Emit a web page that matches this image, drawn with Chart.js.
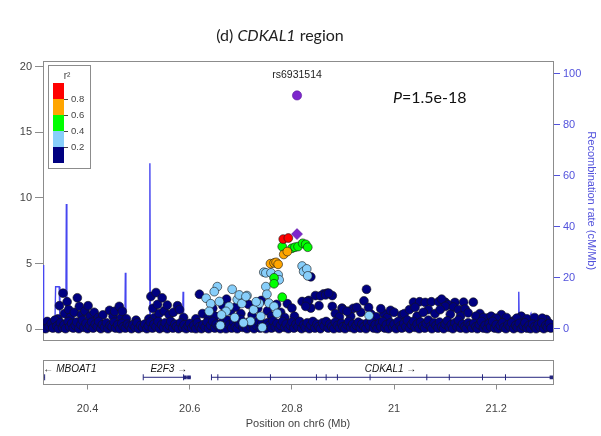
<!DOCTYPE html>
<html lang="en">
<head>
<meta charset="UTF-8">
<title>CDKAL1 region</title>
<script src="https://cdn.jsdelivr.net/npm/chart.js@4.4.0/dist/chart.umd.min.js"></script>
<style>
    body {
        margin: 0;
        background: #fff;
        width: 601px;
        height: 436px;
        position: relative;
        overflow: hidden;
        font-family: Lato, 'Liberation Sans', sans-serif;
    }
    canvas { position: absolute; left: 0; }
    #mainCanvas { top: 0; }
    #geneCanvas { top: 350px; }
    #title {
        position: absolute; left: 0; width: 560px; top: 25px;
        text-align: center; font-size: 16px; line-height: 20px; color: #222; z-index: 2;
    }
    #pval {
        position: absolute; left: 393px; top: 87px;
        font-size: 16px; line-height: 20px; color: #111; z-index: 2;
    }
</style>
</head>
<body>
<div id="title">(d) <i>CDKAL1</i> region</div>
<div id="pval"><i>P</i>=1.5e-18</div>
<canvas id="mainCanvas" width="601" height="350"></canvas>
<canvas id="geneCanvas" width="601" height="86"></canvas>
<script>
// ---- data ----
const xMin = 20.3128, xMax = 21.311;
const xTicks = [20.4, 20.6, 20.8, 21.0, 21.2];
const xTickLabels = ['20.4', '20.6', '20.8', '21', '21.2'];
const yTicks = [0, 5, 10, 15, 20];
const recombTicks = [0, 20, 40, 60, 80, 100];

// r^2 bins, lowest first
const ldBreaks = ['0.2', '0.4', '0.6', '0.8'];
const ldColors = ['#000080', '#87cefa', '#00ff00', '#ffa500', '#ff0000'];

const leadSnp = 'rs6931514';
const leadPos = 20.810;
const leadLogP = 17.8;
const leadDiscoveryLogP = 7.25;

const redSnps = [[20.783, 6.87], [20.793, 6.95]];
const orangeSnps = [[20.784, 5.7], [20.791, 5.92], [20.758, 5.0], [20.765, 5.05], [20.769, 5.1], [20.773, 4.95]];
const greenSnps = [[20.781, 6.3], [20.800, 6.17], [20.806, 6.25], [20.812, 6.3], [20.821, 6.55], [20.827, 6.47],
    [20.831, 6.25], [20.765, 3.92], [20.765, 3.47], [20.781, 2.45]];
const lightBlueSnps = [[20.745, 4.35], [20.749, 4.3], [20.759, 4.3], [20.773, 4.15], [20.775, 3.77], [20.820, 4.82],
    [20.823, 4.4], [20.829, 4.6], [20.831, 4.07], [20.749, 3.25], [20.654, 3.25], [20.648, 2.87], [20.632, 2.37],
    [20.641, 1.95], [20.683, 3.05], [20.693, 2.27], [20.712, 2.57], [20.702, 1.97], [20.677, 1.75], [20.671, 1.37],
    [20.751, 2.67], [20.736, 1.97], [20.755, 2.0], [20.765, 1.75], [20.739, 1.0], [20.771, 1.22], [20.697, 2.62],
    [20.710, 2.5], [20.719, 0.62], [20.638, 1.37], [20.658, 2.12], [20.662, 1.1], [20.688, 0.9], [20.725, 1.5],
    [20.730, 2.1], [20.660, 0.3], [20.705, 0.5], [20.742, 0.15], [20.951, 1.05]];
const navySnps = [
    // left cluster
    [20.342, 0.8], [20.345, 1.8], [20.352, 2.75], [20.355, 1.2], [20.360, 2.1], [20.363, 1.5], [20.366, 0.9],
    [20.374, 1.3], [20.380, 2.4], [20.384, 1.75], [20.388, 1.1], [20.395, 1.4], [20.401, 1.8], [20.405, 1.0],
    [20.413, 1.3], [20.421, 0.9], [20.430, 1.1], [20.443, 1.45], [20.450, 1.0], [20.453, 1.37], [20.462, 1.75],
    [20.466, 0.9], [20.468, 1.37], [20.476, 0.8], [20.495, 0.7], [20.520, 0.8], [20.524, 2.5], [20.528, 1.6],
    [20.531, 0.9], [20.534, 2.8], [20.537, 1.9], [20.540, 1.2], [20.546, 2.4], [20.550, 1.4], [20.556, 1.85],
    [20.560, 1.1], [20.568, 1.3], [20.576, 1.8], [20.580, 1.5], [20.588, 0.9], [20.612, 0.8], [20.619, 2.67],
    // middle
    [20.625, 1.2], [20.636, 0.9], [20.645, 1.6], [20.650, 1.0], [20.665, 1.8], [20.672, 2.3], [20.680, 1.4],
    [20.690, 1.7], [20.700, 1.2], [20.715, 1.9], [20.722, 1.1], [20.733, 1.6], [20.740, 2.2], [20.752, 1.4],
    [20.760, 1.0], [20.770, 1.9], [20.778, 1.3], [20.786, 0.9], [20.791, 1.95], [20.800, 1.62], [20.805, 1.0],
    [20.833, 2.2], [20.837, 4.0], [20.862, 2.7], [20.869, 2.75], [20.879, 2.57], [20.846, 2.57], [20.856, 2.55],
    [20.866, 2.62], [20.837, 1.62], [20.853, 1.8], [20.879, 1.75], [20.820, 2.12], [20.830, 2.12], [20.911, 1.37],
    [20.898, 1.62], [20.827, 1.75], [20.872, 2.75], [20.885, 1.2], [20.893, 0.95], [20.900, 1.5], [20.915, 1.0],
    [20.920, 1.6], [20.935, 1.3], [20.955, 1.15], [20.965, 0.95], [20.980, 1.2], [20.987, 0.9],
    [20.946, 3.05], [20.941, 2.17], [20.950, 1.67], [20.927, 1.67], [20.974, 1.57], [20.993, 1.45], [20.908, 1.37],
    // right block
    [21.000, 1.3], [21.015, 1.1], [21.020, 1.2], [21.030, 1.5], [21.038, 2.07], [21.050, 2.1], [21.061, 2.05],
    [21.073, 2.1], [21.087, 2.1], [21.100, 2.07], [21.093, 2.3], [21.136, 2.07], [21.155, 2.07], [21.119, 2.05],
    [21.106, 1.87], [21.041, 1.67], [21.067, 1.5], [21.100, 1.75], [21.116, 1.7], [21.126, 1.5], [21.139, 1.55],
    [21.168, 1.2], [21.184, 0.87], [21.210, 1.12], [21.249, 1.0], [21.233, 0.62], [21.298, 0.75], [21.045, 1.0],
    [21.057, 1.3], [21.080, 1.2], [21.090, 1.5], [21.110, 1.15], [21.130, 1.0], [21.145, 1.25], [21.160, 1.0],
    [21.175, 0.9], [21.190, 1.0], [21.200, 0.85], [21.220, 0.9], [21.240, 0.85], [21.260, 0.8], [21.275, 0.9],
    [21.290, 0.85],
    // low band
    [20.314, 0.3], [20.318, 0.05], [20.321, 0.6], [20.325, 0.2], [20.329, 0.45], [20.332, 0.1], [20.336, 0.7],
    [20.340, 0.25], [20.343, 0.05], [20.347, 0.5], [20.351, 0.15], [20.354, 0.35], [20.357, 0.05], [20.362, 0.6],
    [20.365, 0.2], [20.369, 0.45], [20.372, 0.1], [20.376, 0.3], [20.379, 0.55], [20.383, 0.05], [20.387, 0.35],
    [20.390, 0.7], [20.393, 0.15], [20.397, 0.45], [20.400, 0.05], [20.404, 0.3], [20.408, 0.55], [20.411, 0.1],
    [20.415, 0.4], [20.419, 0.2], [20.422, 0.6], [20.426, 0.05], [20.429, 0.35], [20.433, 0.15], [20.437, 0.5],
    [20.440, 0.05], [20.444, 0.3], [20.448, 0.2], [20.452, 0.55], [20.455, 0.1], [20.459, 0.35], [20.463, 0.05],
    [20.467, 0.45], [20.470, 0.2], [20.474, 0.1], [20.478, 0.4], [20.482, 0.25], [20.486, 0.05], [20.489, 0.35],
    [20.493, 0.15], [20.497, 0.5], [20.500, 0.05], [20.504, 0.3], [20.508, 0.15], [20.512, 0.4], [20.516, 0.05],
    [20.519, 0.25], [20.523, 0.55], [20.527, 0.1], [20.530, 0.4], [20.534, 0.2], [20.538, 0.6], [20.541, 0.05],
    [20.545, 0.35], [20.549, 0.15], [20.552, 0.5], [20.556, 0.05], [20.560, 0.3], [20.563, 0.6], [20.567, 0.1],
    [20.571, 0.4], [20.574, 0.2], [20.578, 0.05], [20.582, 0.5], [20.586, 0.15], [20.589, 0.35], [20.593, 0.05],
    [20.597, 0.25], [20.600, 0.45], [20.604, 0.1], [20.608, 0.3], [20.612, 0.05], [20.615, 0.5], [20.619, 0.2],
    [20.623, 0.05], [20.626, 0.35], [20.630, 0.15], [20.634, 0.55], [20.637, 0.05], [20.641, 0.3], [20.645, 0.6],
    [20.649, 0.1], [20.652, 0.4], [20.656, 0.2], [20.660, 0.05], [20.663, 0.5], [20.667, 0.25], [20.671, 0.05],
    [20.674, 0.7], [20.678, 0.35], [20.682, 0.1], [20.686, 0.55], [20.689, 0.2], [20.693, 0.05], [20.697, 0.4],
    [20.700, 0.75], [20.704, 0.15], [20.708, 0.3], [20.712, 0.05], [20.715, 0.55], [20.719, 0.2], [20.723, 0.4],
    [20.726, 0.05], [20.730, 0.3], [20.734, 0.6], [20.738, 0.1], [20.741, 0.45], [20.745, 0.2], [20.749, 0.05],
    [20.752, 0.5], [20.756, 0.3], [20.760, 0.1], [20.763, 0.65], [20.767, 0.2], [20.771, 0.45], [20.775, 0.05],
    [20.778, 0.3], [20.782, 0.6], [20.786, 0.15], [20.789, 0.4], [20.793, 0.05], [20.797, 0.3], [20.800, 0.55],
    [20.804, 0.1], [20.808, 0.4], [20.812, 0.2], [20.815, 0.6], [20.819, 0.05], [20.823, 0.35], [20.826, 0.15],
    [20.830, 0.5], [20.834, 0.05], [20.837, 0.3], [20.841, 0.6], [20.845, 0.1], [20.849, 0.4], [20.852, 0.2],
    [20.856, 0.05], [20.860, 0.5], [20.863, 0.25], [20.867, 0.6], [20.871, 0.1], [20.874, 0.4], [20.878, 0.2],
    [20.882, 0.05], [20.885, 0.55], [20.889, 0.3], [20.893, 0.1], [20.897, 0.45], [20.900, 0.2], [20.904, 0.05],
    [20.908, 0.35], [20.911, 0.6], [20.915, 0.15], [20.919, 0.4], [20.922, 0.05], [20.926, 0.3], [20.930, 0.55],
    [20.934, 0.1], [20.937, 0.4], [20.941, 0.2], [20.945, 0.05], [20.948, 0.5], [20.952, 0.25], [20.956, 0.6],
    [20.960, 0.1], [20.963, 0.35], [20.967, 0.05], [20.971, 0.45], [20.974, 0.2], [20.978, 0.6], [20.982, 0.1],
    [20.985, 0.35], [20.989, 0.05], [20.993, 0.5], [20.997, 0.2], [21.000, 0.4], [21.004, 0.05], [21.008, 0.6],
    [21.012, 0.25], [21.015, 0.1], [21.019, 0.45], [21.023, 0.2], [21.026, 0.7], [21.030, 0.05], [21.034, 0.35],
    [21.038, 0.6], [21.041, 0.15], [21.045, 0.4], [21.049, 0.05], [21.052, 0.55], [21.056, 0.25], [21.060, 0.1],
    [21.063, 0.45], [21.067, 0.7], [21.071, 0.2], [21.074, 0.05], [21.078, 0.5], [21.082, 0.3], [21.086, 0.1],
    [21.089, 0.55], [21.093, 0.2], [21.097, 0.05], [21.100, 0.4], [21.104, 0.65], [21.108, 0.15], [21.112, 0.35],
    [21.115, 0.05], [21.119, 0.5], [21.123, 0.2], [21.126, 0.7], [21.130, 0.1], [21.134, 0.4], [21.138, 0.2],
    [21.141, 0.05], [21.145, 0.5], [21.149, 0.3], [21.152, 0.1], [21.156, 0.45], [21.160, 0.2], [21.163, 0.05],
    [21.167, 0.35], [21.171, 0.6], [21.175, 0.1], [21.178, 0.3], [21.182, 0.05], [21.186, 0.45], [21.189, 0.2],
    [21.193, 0.6], [21.197, 0.1], [21.200, 0.35], [21.204, 0.05], [21.208, 0.3], [21.212, 0.5], [21.215, 0.15],
    [21.219, 0.05], [21.223, 0.35], [21.227, 0.2], [21.230, 0.5], [21.234, 0.05], [21.238, 0.3], [21.241, 0.15],
    [21.245, 0.45], [21.249, 0.05], [21.253, 0.25], [21.256, 0.5], [21.260, 0.1], [21.264, 0.3], [21.267, 0.05],
    [21.271, 0.4], [21.275, 0.2], [21.278, 0.05], [21.282, 0.35], [21.286, 0.15], [21.289, 0.5], [21.293, 0.05],
    [21.297, 0.3], [21.300, 0.15], [21.304, 0.45], [21.307, 0.1]
];

// recombination rate (cM/Mb)
const recombPos = [20.313, 20.314, 20.322, 20.330, 20.336, 20.3375, 20.3445, 20.346, 20.352, 20.3575, 20.3585,
    20.3595, 20.370, 20.390, 20.420, 20.450, 20.473, 20.474, 20.475, 20.500, 20.521, 20.522, 20.523, 20.550,
    20.575, 20.586, 20.587, 20.588, 20.610, 20.640, 20.660, 20.680, 20.700, 20.720, 20.740, 20.760, 20.800,
    20.850, 20.900, 20.930, 20.950, 21.000, 21.050, 21.080, 21.100, 21.110, 21.200, 21.243, 21.244, 21.245,
    21.260, 21.268, 21.275, 21.311];
const recombRate = [25, 0.5, 1.0, 0.3, 0.5, 16.5, 16.5, 2, 1.5, 1, 49,
    1.5, 0.8, 0.5, 0.8, 1.0, 0.8, 22, 0.8, 0.4, 0.5, 65, 1.5, 2,
    1.5, 1.5, 14.5, 1.0, 0.5, 1.0, 3.5, 1.5, 3, 1.5, 2.5, 1.0, 0.5,
    0.8, 0.5, 1.5, 0.5, 0.8, 0.4, 1.0, 4, 0.5, 0.6, 0.8, 14.5, 1.0,
    1.5, 6, 0.8, 0.5];

// genes
const geneNames = ['MBOAT1', 'E2F3', 'CDKAL1'];
const geneStart = [20.3128, 20.509, 20.6425];
const geneEnd = [20.316, 20.602, 21.309];
const geneExons = [[20.316], [20.509, 20.588], [20.6425, 20.655, 20.758, 20.848, 20.867, 20.889, 20.953, 21.064,
    21.108, 21.173, 21.218]];
const geneBlocks = [20.5905, 20.5985, 21.308];
const geneLabels = ['\u2190 MBOAT1', 'E2F3 \u2192', 'CDKAL1 \u2192'];
const geneLabelPos = [20.3135, 20.559, 20.993];

// ---- main association panel ----
const toPts = arr => arr.map(p => ({ x: p[0], y: p[1] }));
const axisFont = { family: '"Liberation Sans", Arial, sans-serif', size: 11 };
const recombBlue = '#5252dc';

function snpSet(label, pts, color, order) {
    return {
        label: label, data: toPts(pts), backgroundColor: color,
        borderColor: '#151515', borderWidth: 0.6, pointRadius: 4.4, order: order
    };
}

const mainDecor = {
    id: 'mainDecor',
    beforeDatasetsDraw(chart) {
        const { ctx, chartArea: a } = chart;
        ctx.save();
        ctx.strokeStyle = '#8c8c8c';
        ctx.lineWidth = 1;
        ctx.strokeRect(Math.round(a.left) + 0.5, Math.round(a.top) + 0.5,
            Math.round(a.right - a.left), Math.round(a.bottom - a.top));
        ctx.restore();
    },
    afterDraw(chart) {
        const ctx = chart.ctx;
        ctx.save();
        // r^2 legend
        ctx.fillStyle = '#fff';
        ctx.fillRect(48, 65, 43, 103);
        ctx.strokeStyle = '#8c8c8c';
        ctx.lineWidth = 1;
        ctx.strokeRect(48.5, 65.5, 42, 103);
        ldColors.forEach((c, i) => {
            ctx.fillStyle = c;
            ctx.fillRect(53, 147 - i * 16, 11, 16);
        });
        ctx.fillStyle = '#444';
        ctx.strokeStyle = '#444';
        ctx.font = '9.5px "Liberation Sans"';
        ctx.textAlign = 'left';
        ctx.textBaseline = 'middle';
        ldBreaks.forEach((b, j) => {
            const y = 147 - j * 16 + 0.5;
            ctx.beginPath();
            ctx.moveTo(64, y);
            ctx.lineTo(68, y);
            ctx.stroke();
            ctx.fillText(b, 71, y);
        });
        ctx.font = '10px "Liberation Sans"';
        ctx.textAlign = 'center';
        ctx.fillText('r\u00b2', 67, 76);
        // lead SNP label
        const px = chart.scales.x.getPixelForValue(leadPos);
        const py = chart.scales.y.getPixelForValue(leadLogP);
        ctx.fillStyle = '#222';
        ctx.font = '10.5px "Liberation Sans"';
        ctx.fillText(leadSnp, px, py - 20);
        ctx.restore();
    }
};

new Chart(document.getElementById('mainCanvas').getContext('2d'), {
    type: 'scatter',
    data: {
        datasets: [
            {
                label: leadSnp, data: [{ x: leadPos, y: leadLogP }], backgroundColor: '#7d26cd',
                borderColor: '#5a1a9a', borderWidth: 0.6, pointRadius: 4.6, order: 0
            },
            {
                label: leadSnp + ' discovery', data: [{ x: leadPos, y: leadDiscoveryLogP }],
                backgroundColor: '#7d26cd', borderColor: '#5a1a9a', borderWidth: 0.6,
                pointStyle: 'rectRot', pointRadius: 5.5, order: 1
            },
            snpSet('0.8-1.0', redSnps, ldColors[4], 2),
            snpSet('0.6-0.8', orangeSnps, ldColors[3], 3),
            snpSet('0.4-0.6', greenSnps, ldColors[2], 4),
            snpSet('0.2-0.4', lightBlueSnps, ldColors[1], 5),
            snpSet('0-0.2', navySnps, ldColors[0], 6),
            {
                type: 'line', label: 'Recombination rate', yAxisID: 'y2', order: 7,
                data: recombPos.map((p, i) => ({ x: p, y: recombRate[i] })),
                borderColor: '#4646f0', borderWidth: 1.4, pointRadius: 0, tension: 0, fill: false
            }
        ]
    },
    options: {
        responsive: false,
        animation: false,
        devicePixelRatio: 1,
        layout: { padding: { top: 61, bottom: 5.5, left: 0, right: 0 } },
        plugins: { legend: { display: false }, tooltip: { enabled: false } },
        scales: {
            x: { type: 'linear', min: xMin, max: xMax, display: false },
            y: {
                min: -0.84, max: 20.42,
                afterBuildTicks: s => { s.ticks = yTicks.map(v => ({ value: v })); },
                afterFit: s => { s.width = 43; },
                grid: { drawOnChartArea: false, drawTicks: true, tickLength: 8, tickColor: '#8c8c8c' },
                border: { display: true, color: '#8c8c8c' },
                ticks: { color: '#444', font: axisFont, padding: 3 }
            },
            y2: {
                position: 'right', min: -4.56, max: 105.1,
                afterBuildTicks: s => { s.ticks = recombTicks.map(v => ({ value: v })); },
                afterFit: s => { s.width = 48; },
                grid: { drawOnChartArea: false, drawTicks: true, tickLength: 7, tickColor: recombBlue },
                border: { display: true, color: recombBlue },
                ticks: { color: recombBlue, font: axisFont, padding: 3 },
                title: {
                    display: true, text: 'Recombination rate (cM/Mb)', color: recombBlue,
                    font: axisFont, padding: 3
                }
            }
        }
    },
    plugins: [mainDecor]
});

// ---- gene track ----
const geneY = 0.264;
const geneColor = '#26267e';

const geneDecor = {
    id: 'geneDecor',
    afterDraw(chart) {
        const { ctx, chartArea: a } = chart;
        ctx.save();
        ctx.strokeStyle = '#8c8c8c';
        ctx.lineWidth = 1;
        ctx.strokeRect(Math.round(a.left) + 0.5, Math.round(a.top) + 0.5,
            Math.round(a.right - a.left), Math.round(a.bottom - a.top));
        ctx.fillStyle = '#111';
        ctx.font = 'italic 10px "Liberation Sans"';
        ctx.textBaseline = 'middle';
        const ly = chart.scales.y.getPixelForValue(0.59);
        geneLabels.forEach((t, i) => {
            ctx.textAlign = i === 0 ? 'left' : 'center';
            ctx.fillText(t, chart.scales.x.getPixelForValue(geneLabelPos[i]), ly);
        });
        ctx.restore();
    }
};

const geneSets = geneNames.map((g, i) => ({
    type: 'line', label: g, data: [{ x: geneStart[i], y: geneY }, { x: geneEnd[i], y: geneY }],
    borderColor: geneColor, borderWidth: 1, pointRadius: 0
}));
geneSets.push({
    label: 'exons', data: geneExons.flat().map(p => ({ x: p, y: geneY })),
    pointStyle: 'line', rotation: 90, pointRadius: 3, borderColor: geneColor, borderWidth: 1
});
geneSets.push({
    label: 'blocks', data: geneBlocks.map(p => ({ x: p, y: geneY })),
    pointStyle: 'rect', pointRadius: 2.6, backgroundColor: geneColor, borderColor: geneColor, borderWidth: 0
});

new Chart(document.getElementById('geneCanvas').getContext('2d'), {
    type: 'scatter',
    data: { datasets: geneSets },
    options: {
        responsive: false,
        animation: false,
        devicePixelRatio: 1,
        layout: { padding: { top: 10, left: 43, right: 48, bottom: 0 } },
        plugins: { legend: { display: false }, tooltip: { enabled: false } },
        scales: {
            x: {
                type: 'linear', min: xMin, max: xMax, position: 'bottom',
                afterBuildTicks: s => { s.ticks = xTicks.map(v => ({ value: v })); },
                afterFit: s => { s.height = 52.5; },
                grid: { drawOnChartArea: false, drawTicks: true, tickLength: 6, color: '#8c8c8c' },
                border: { display: false },
                ticks: {
                    color: '#444', font: axisFont, padding: 13, maxRotation: 0, autoSkip: false,
                    callback: (v, i) => xTickLabels[i]
                },
                title: {
                    display: true, text: 'Position on chr6 (Mb)', color: '#444', font: axisFont,
                    padding: { top: 4, bottom: 5 }
                }
            },
            y: { display: false, min: 0, max: 1 }
        }
    },
    plugins: [geneDecor]
});
</script>
</body>
</html>
